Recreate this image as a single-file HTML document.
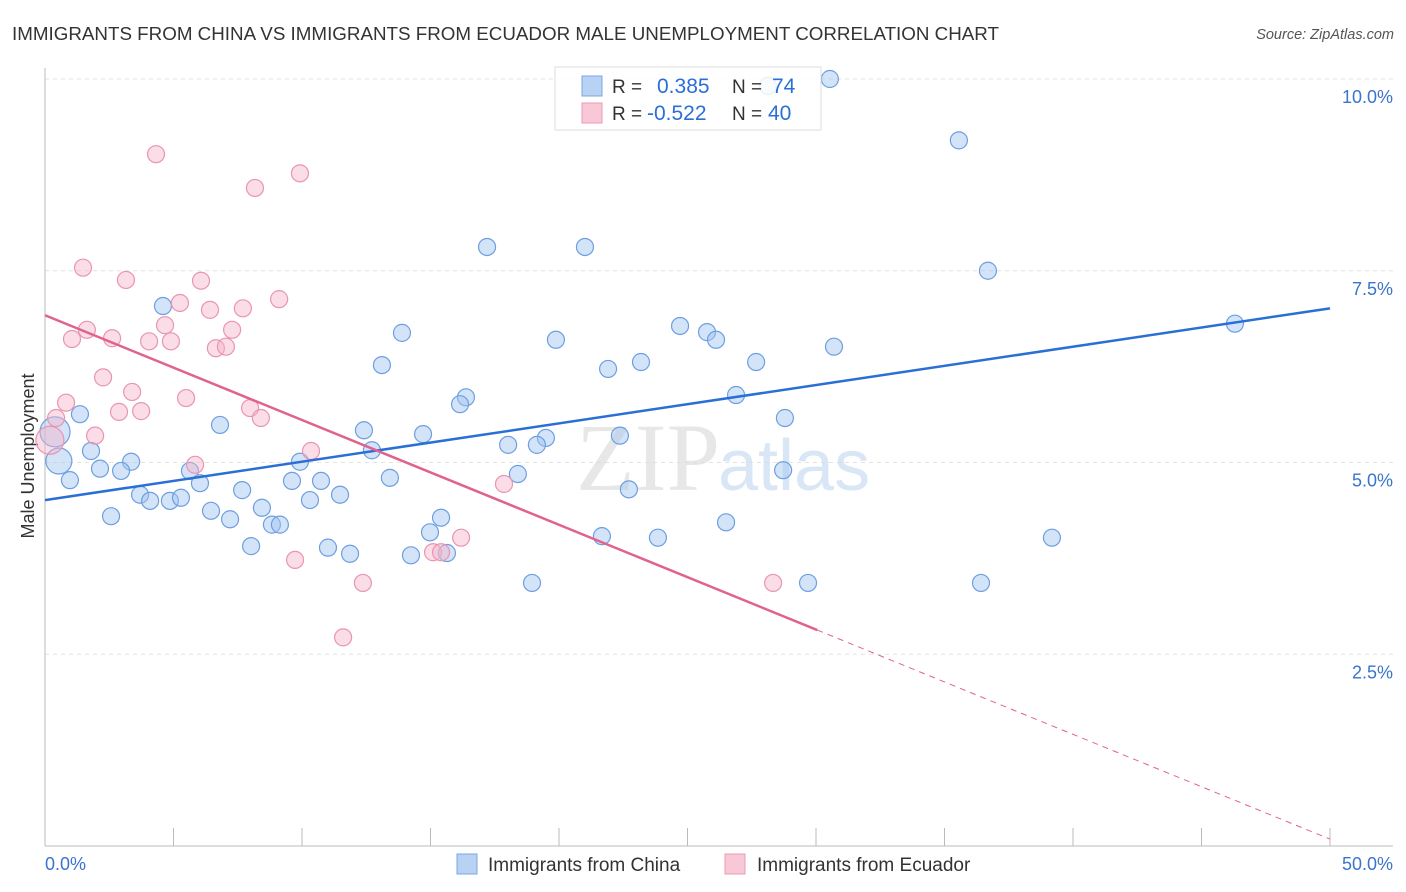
<!DOCTYPE html>
<html><head><meta charset="utf-8"><style>
body{margin:0;background:#fff;font-family:"Liberation Sans",sans-serif;}
svg{display:block}
</style></head><body>
<svg id="chart" width="1406" height="892">
<text x="12" y="40" font-size="18" fill="#333" textLength="987" lengthAdjust="spacingAndGlyphs">IMMIGRANTS FROM CHINA VS IMMIGRANTS FROM ECUADOR MALE UNEMPLOYMENT CORRELATION CHART</text>
<text x="1394" y="39" font-size="14.5" fill="#555" font-style="italic" text-anchor="end">Source: ZipAtlas.com</text>
<text transform="translate(34,456) rotate(-90)" font-size="18" fill="#333" text-anchor="middle">Male Unemployment</text>
<g id="grid"></g>
<text x="720" y="490" font-size="96" fill="#ddd" text-anchor="end" font-family="Liberation Serif,serif" opacity="0.7">ZIP</text>
<text x="718" y="490" font-size="72" fill="#c9dcf3" opacity="0.7">atlas</text>
<g id="pts"></g>
<g id="lines"></g>
<g>
<rect x="555" y="67" width="266" height="63" fill="#fff" fill-opacity="0.85" stroke="#ddd"/>
<rect x="582" y="76" width="20" height="20" fill="#b7d2f3" stroke="#7aa7e3"/>
<rect x="582" y="103" width="20" height="20" fill="#f8c8d7" stroke="#eb9bb6"/>
<text x="612" y="93" font-size="19" fill="#333">R =</text><text x="657" y="93" font-size="21" fill="#2a6fd6">0.385</text>
<text x="732" y="93" font-size="19" fill="#333">N =</text><text x="772" y="93" font-size="21" fill="#2a6fd6">74</text>
<text x="612" y="120" font-size="19" fill="#333">R =</text><text x="647" y="120" font-size="21" fill="#2a6fd6">-0.522</text>
<text x="732" y="120" font-size="19" fill="#333">N =</text><text x="768" y="120" font-size="21" fill="#2a6fd6">40</text>
</g>
<g>
<rect x="457" y="854" width="20" height="20" fill="#b7d2f3" stroke="#7aa7e3"/>
<text x="488" y="871" font-size="19" fill="#333">Immigrants from China</text>
<rect x="725" y="854" width="20" height="20" fill="#f8c8d7" stroke="#eb9bb6"/>
<text x="757" y="871" font-size="19" fill="#333">Immigrants from Ecuador</text>
</g>
<text x="45" y="870" font-size="18" fill="#3a74cc">0.0%</text>
<text x="1393" y="870" font-size="18" fill="#3a74cc" text-anchor="end">50.0%</text>
</svg>
<script>
const yTicks=[2.5,5,7.5,10];
const yTickLabels=["2.5%","5.0%","7.5%","10.0%"];
const xTickVals=[0,5,10,15,20,25,30,35,40,45,50];
const chinaX=[30.54,35.56,17.20,21.01,36.69,46.30,4.59,13.89,24.71,25.76,26.11,19.88,30.70,13.11,21.91,23.19,27.67,16.38,16.15,26.89,1.36,28.79,6.81,12.41,14.71,19.49,19.14,18.02,22.37,12.72,0.39,1.79,0.54,3.35,9.92,0.97,2.14,2.96,5.64,6.03,18.40,28.72,13.42,9.61,10.74,3.70,4.09,4.86,5.29,7.67,11.48,10.31,2.57,6.46,8.44,7.20,8.83,9.14,15.41,26.50,22.72,14.98,21.67,23.85,39.18,8.02,11.01,11.87,14.24,15.64,18.95,29.69,36.42,28.13];
const chinaY=[10.0,9.20,7.81,7.81,7.50,6.81,7.04,6.69,6.78,6.70,6.60,6.60,6.51,6.27,6.22,6.31,6.31,5.85,5.76,5.88,5.63,5.58,5.49,5.42,5.37,5.32,5.23,5.23,5.35,5.16,5.40,5.15,5.02,5.01,5.01,4.77,4.92,4.89,4.89,4.73,4.85,4.90,4.80,4.76,4.76,4.58,4.50,4.50,4.54,4.64,4.58,4.51,4.30,4.37,4.41,4.26,4.19,4.19,4.28,4.22,4.65,4.09,4.04,4.02,4.02,3.91,3.89,3.81,3.79,3.82,3.43,3.43,3.43,9.91];
const chinaBig=[30,32];
const ecuX=[4.32,8.17,9.92,1.48,3.15,6.07,5.25,9.11,7.70,6.42,4.67,1.63,1.05,2.61,4.05,4.90,7.28,6.65,7.04,2.26,3.39,5.49,0.82,0.43,2.88,3.74,7.98,8.40,1.95,10.35,5.84,17.86,9.73,15.10,15.41,16.19,12.37,28.33,11.60,0.19];
const ecuY=[9.02,8.58,8.77,7.54,7.38,7.37,7.08,7.13,7.01,6.99,6.79,6.73,6.61,6.62,6.58,6.58,6.73,6.49,6.51,6.11,5.92,5.84,5.78,5.58,5.66,5.67,5.71,5.58,5.35,5.15,4.97,4.72,3.73,3.83,3.83,4.02,3.43,3.43,2.72,5.29];
const ecuBig=[39];
const chinaTrend=[4.51,7.01];
const ecuTrend=[6.92,0.09];
const ecuSolidEnd=30.05;

const X0=45,X1=1330,Y0=846,Yscale=76.7;
const sx=v=>X0+(X1-X0)*v/50;
const sy=v=>Y0-v*Yscale;
const NS="http://www.w3.org/2000/svg";
function mk(t,a,p){const e=document.createElementNS(NS,t);for(const k in a)e.setAttribute(k,a[k]);p.appendChild(e);return e;}
const grid=document.getElementById('grid');
yTicks.forEach((t,i)=>{
 const l=mk('line',{x1:45,x2:1393,y1:sy(t),y2:sy(t),stroke:'#e2e2e2','stroke-dasharray':'4,4'},grid);
 
 
 const tx=mk('text',{x:1393,y:sy(t)+24,'font-size':18,fill:'#3a74cc','text-anchor':'end'},grid);
 tx.textContent=yTickLabels[i];
 
 
});
mk('line',{x1:45,x2:45,y1:68,y2:846,stroke:'#bbb'},grid);
mk('line',{x1:45,x2:1393,y1:846,y2:846,stroke:'#bbb'},grid);
xTickVals.forEach(v=>{if(v>0){const t=mk('line',{x1:sx(v),x2:sx(v),y1:828,y2:846,stroke:'#bbb'},grid);
 
 }});
const pts=document.getElementById('pts');
chinaX.forEach((x,i)=>{const r=chinaBig.includes(i)?(i==30?15:13):8.5;
 const c=mk('circle',{cx:sx(x),cy:sy(chinaY[i]),r:r,fill:'rgba(160,196,240,0.45)',stroke:'#6d9fe0','stroke-width':1.2},pts);
 
 });
ecuX.forEach((x,i)=>{const r=ecuBig.includes(i)?14:8.5;
 const c=mk('circle',{cx:sx(x),cy:sy(ecuY[i]),r:r,fill:'rgba(245,180,202,0.45)',stroke:'#e995b2','stroke-width':1.2},pts);
 
 });
const lines=document.getElementById('lines');
const bl=mk('line',{x1:sx(0),y1:sy(chinaTrend[0]),x2:sx(50),y2:sy(chinaTrend[1]),stroke:'#2a6fd6','stroke-width':2.5},lines);


const ey=ecuTrend[0]+(ecuTrend[1]-ecuTrend[0])*ecuSolidEnd/50;
const pl=mk('line',{x1:sx(0),y1:sy(ecuTrend[0]),x2:sx(ecuSolidEnd),y2:sy(ey),stroke:'#e0628f','stroke-width':2.5},lines);


const pd=mk('line',{x1:sx(ecuSolidEnd),y1:sy(ey),x2:sx(50),y2:sy(ecuTrend[1]),stroke:'#e0628f','stroke-width':1,'stroke-dasharray':'6,5'},lines);


</script>
</body></html>
